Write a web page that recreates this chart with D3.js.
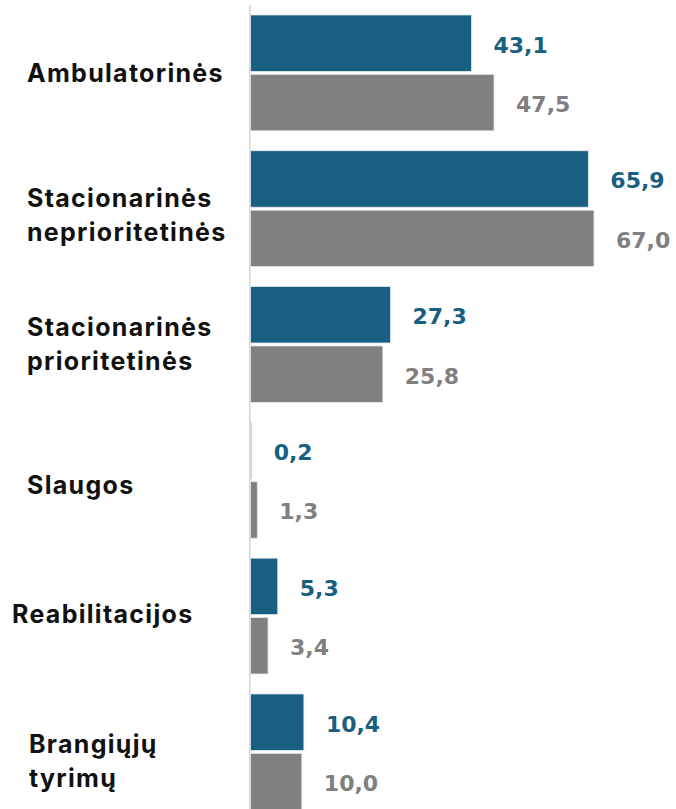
<!DOCTYPE html>
<html>
<head>
<meta charset="utf-8">
<script src="https://cdn.jsdelivr.net/npm/d3@7"></script>
<style>
  html, body { margin: 0; padding: 0; background: #ffffff; }
  svg { display: block; }
</style>
</head>
<body>
<svg id="chart" width="676" height="809"></svg>
<script>
// ---- data ----
const categories = [
  "Ambulatorinės",
  "Stacionarinės\nneprioritetinės",
  "Stacionarinės\nprioritetinės",
  "Slaugos",
  "Reabilitacijos",
  "Brangiųjų\ntyrimų"
];
const seriesNames = ["Serija 1", "Serija 2"];
const series1 = [43.1, 65.9, 27.3, 0.2, 5.3, 10.4];
const series2 = [47.5, 67.0, 25.8, 1.3, 3.4, 10.0];
const valueLabels1 = ["43,1", "65,9", "27,3", "0,2", "5,3", "10,4"];
const valueLabels2 = ["47,5", "67,0", "25,8", "1,3", "3,4", "10,0"];

// ---- layout / style ----
const colors = ["#185f81", "#808080"];
const labelLeft = [27, 27, 27, 27, 12, 29];
const labelNudge = [0, 6, 0, 5, -2, 9];

const svg = d3.select("#chart");
const x = d3.scaleLinear().domain([0, 67]).range([250.6, 250.6 + 67 * 5.125]);
const y = d3.scaleBand().domain(categories).range([-5, -5 + 135.8 * 6.147])
  .paddingInner(0.147).paddingOuter(0.147);
const ys = d3.scaleBand().domain(seriesNames).range([0, y.bandwidth()]).paddingInner(0.05);

const rows = categories.map((c, i) => ({
  cat: c,
  vals: [
    { s: seriesNames[0], v: series1[i], lab: valueLabels1[i], k: 0 },
    { s: seriesNames[1], v: series2[i], lab: valueLabels2[i], k: 1 }
  ]
}));

const g = svg.selectAll("g.row").data(rows).join("g").attr("class", "row")
  .attr("transform", d => `translate(0,${y(d.cat)})`);

g.selectAll("rect").data(d => d.vals).join("rect")
  .attr("x", x(0))
  .attr("y", d => ys(d.s))
  .attr("width", d => x(d.v) - x(0))
  .attr("height", ys.bandwidth())
  .attr("fill", d => colors[d.k])
  .attr("stroke", "#e3e8ec")
  .attr("stroke-width", 0.8);

g.selectAll("text.val").data(d => d.vals).join("text").attr("class", "val")
  .attr("x", d => x(d.v) + 22)
  .attr("y", d => ys(d.s) + ys.bandwidth() / 2 + 9.5)
  .attr("fill", d => colors[d.k])
  .style("font-family", "'DejaVu Sans', sans-serif")
  .style("font-weight", "700")
  .style("font-size", "22px")
  .text(d => d.lab);

// category labels
const lineH = 34;
g.each(function(d, i) {
  const lines = d.cat.split("\n");
  const cy = y.bandwidth() / 2 + labelNudge[i];
  const capH = 18;
  const blockH = capH + (lines.length - 1) * lineH;
  const firstBase = cy - blockH / 2 + capH;
  const t = d3.select(this).append("text")
    .attr("fill", "#111")
    .style("font-family", "Inter, 'Noto Sans', sans-serif")
    .style("font-weight", "700")
    .style("font-size", "25px")
    .style("letter-spacing", "1.3px");
  lines.forEach((ln, j) => {
    t.append("tspan").attr("x", labelLeft[i]).attr("y", firstBase + j * lineH).text(ln);
  });
});

// axis line
svg.append("line")
  .attr("x1", 249.8).attr("x2", 249.8)
  .attr("y1", 5).attr("y2", 809)
  .attr("stroke", "#d9d9d9").attr("stroke-width", 1.7);
</script>
</body>
</html>
